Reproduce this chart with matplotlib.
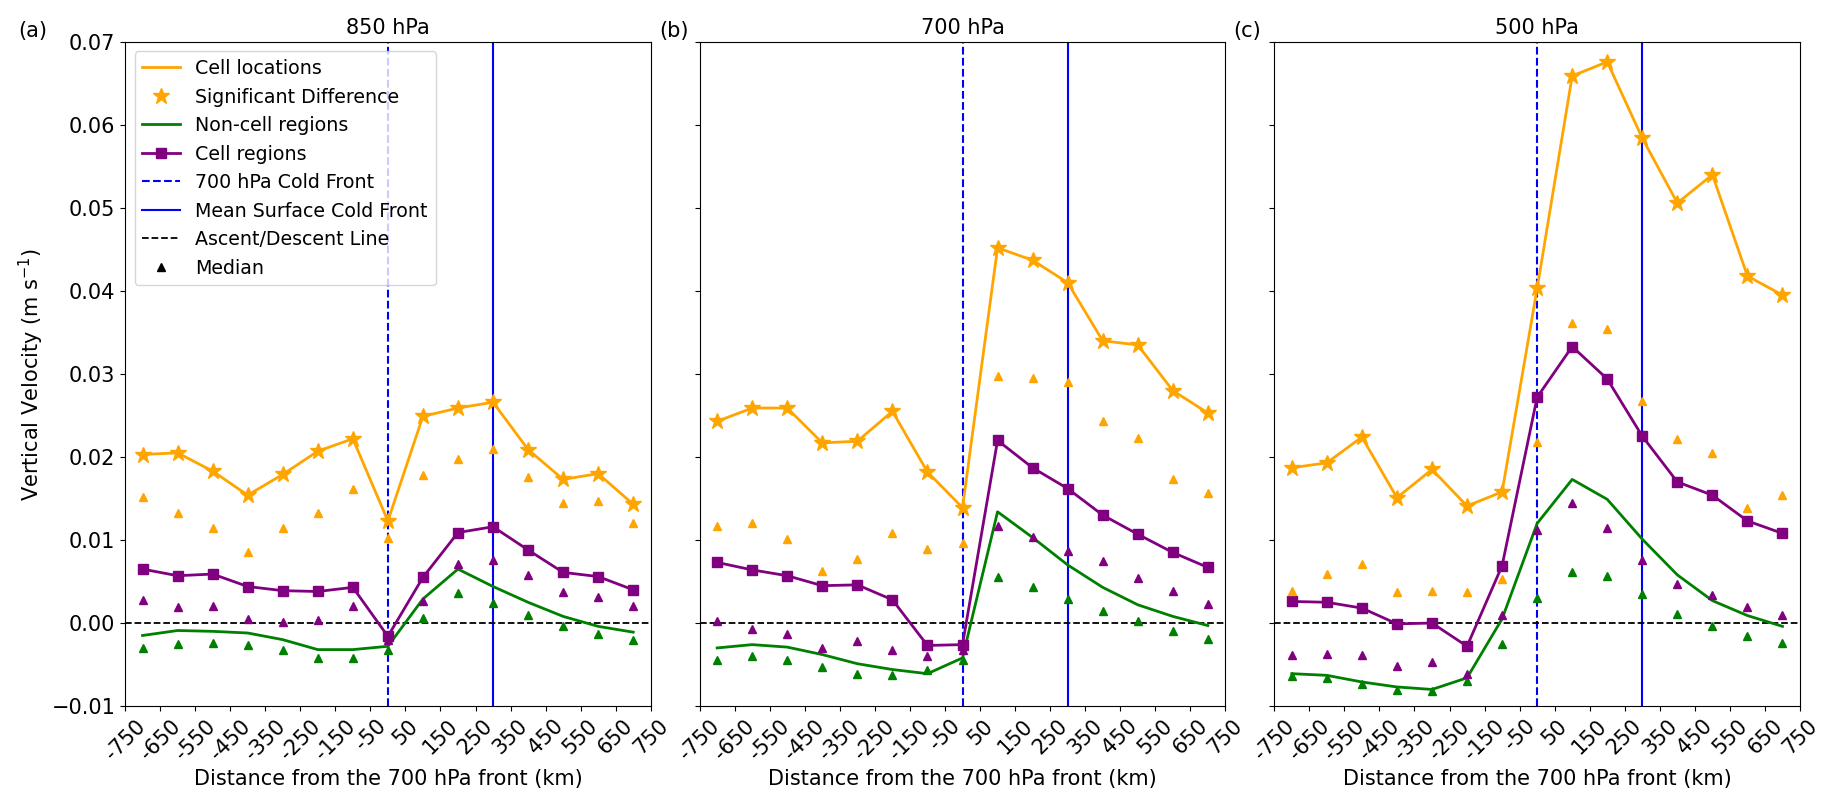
import matplotlib
matplotlib.use("Agg")
import matplotlib.pyplot as plt
from matplotlib.lines import Line2D

distance = [-700, -600, -500, -400, -300, -200, -100, 0, 100, 200, 300, 400, 500, 600, 700]
levels = ["850 hPa", "700 hPa", "500 hPa"]
panel_labels = ["(a)", "(b)", "(c)"]
xticks = list(range(-750, 751, 100))
xtick_labels = [str(v) for v in xticks]

# 850 hPa
cell_loc_850 = [0.0203, 0.0205, 0.0183, 0.0154, 0.0179, 0.0207, 0.0222, 0.0123, 0.0249, 0.0259, 0.0266, 0.0209, 0.0173, 0.0180, 0.0143]
cell_loc_med_850 = [0.0152, 0.0133, 0.0115, 0.0085, 0.0114, 0.0132, 0.0161, 0.0103, 0.0178, 0.0197, 0.0210, 0.0176, 0.0145, 0.0147, 0.0121]
cell_reg_850 = [0.0065, 0.0057, 0.0059, 0.0044, 0.0039, 0.0038, 0.0043, -0.0016, 0.0055, 0.0109, 0.0116, 0.0088, 0.0061, 0.0056, 0.0040]
cell_reg_med_850 = [0.0028, 0.0019, 0.0021, 0.0005, 0.0001, 0.0004, 0.0021, -0.0020, 0.0027, 0.0071, 0.0076, 0.0058, 0.0037, 0.0031, 0.0020]
noncell_850 = [-0.0015, -0.0009, -0.0010, -0.0012, -0.0020, -0.0032, -0.0032, -0.0028, 0.0029, 0.0065, 0.0044, 0.0025, 0.0008, -0.0004, -0.0011]
noncell_med_850 = [-0.0030, -0.0025, -0.0024, -0.0026, -0.0033, -0.0042, -0.0042, -0.0033, 0.0006, 0.0036, 0.0024, 0.0010, -0.0004, -0.0013, -0.0021]

# 700 hPa
cell_loc_700 = [0.0243, 0.0259, 0.0259, 0.0217, 0.0219, 0.0255, 0.0182, 0.0139, 0.0452, 0.0437, 0.0410, 0.0340, 0.0335, 0.0280, 0.0253]
cell_loc_med_700 = [0.0117, 0.0121, 0.0101, 0.0063, 0.0077, 0.0108, 0.0089, 0.0097, 0.0297, 0.0295, 0.0290, 0.0243, 0.0223, 0.0174, 0.0157]
cell_reg_700 = [0.0073, 0.0064, 0.0057, 0.0045, 0.0046, 0.0028, -0.0027, -0.0026, 0.0220, 0.0187, 0.0162, 0.0130, 0.0107, 0.0085, 0.0067]
cell_reg_med_700 = [0.0003, -0.0007, -0.0013, -0.0030, -0.0022, -0.0032, -0.0040, -0.0032, 0.0117, 0.0104, 0.0087, 0.0075, 0.0054, 0.0038, 0.0023]
noncell_700 = [-0.0030, -0.0026, -0.0029, -0.0038, -0.0049, -0.0056, -0.0061, -0.0042, 0.0134, 0.0103, 0.0070, 0.0043, 0.0022, 0.0008, -0.0003]
noncell_med_700 = [-0.0044, -0.0040, -0.0044, -0.0053, -0.0061, -0.0062, -0.0057, -0.0044, 0.0056, 0.0044, 0.0029, 0.0014, 0.0003, -0.0009, -0.0019]

# 500 hPa
cell_loc_500 = [0.0187, 0.0193, 0.0224, 0.0151, 0.0185, 0.0141, 0.0158, 0.0403, 0.0659, 0.0676, 0.0584, 0.0506, 0.0540, 0.0418, 0.0395]
cell_loc_med_500 = [0.0039, 0.0059, 0.0071, 0.0037, 0.0038, 0.0037, 0.0053, 0.0218, 0.0362, 0.0354, 0.0268, 0.0222, 0.0205, 0.0139, 0.0154]
cell_reg_500 = [0.0026, 0.0025, 0.0018, -0.0001, 0.0000, -0.0028, 0.0069, 0.0272, 0.0333, 0.0294, 0.0225, 0.0170, 0.0154, 0.0123, 0.0108]
cell_reg_med_500 = [-0.0039, -0.0037, -0.0038, -0.0052, -0.0047, -0.0061, 0.0010, 0.0112, 0.0145, 0.0114, 0.0076, 0.0047, 0.0034, 0.0019, 0.0010]
noncell_500 = [-0.0061, -0.0063, -0.0071, -0.0077, -0.0080, -0.0066, 0.0005, 0.0120, 0.0173, 0.0149, 0.0101, 0.0058, 0.0027, 0.0009, -0.0004]
noncell_med_500 = [-0.0064, -0.0066, -0.0073, -0.0081, -0.0082, -0.0070, -0.0025, 0.0030, 0.0062, 0.0057, 0.0035, 0.0011, -0.0004, -0.0016, -0.0024]

front_700 = 0
surface_front = 300

data = [
    (cell_loc_850, cell_loc_med_850, cell_reg_850, cell_reg_med_850, noncell_850, noncell_med_850),
    (cell_loc_700, cell_loc_med_700, cell_reg_700, cell_reg_med_700, noncell_700, noncell_med_700),
    (cell_loc_500, cell_loc_med_500, cell_reg_500, cell_reg_med_500, noncell_500, noncell_med_500),
]

FS = 15
LFS = 13.7
label_x = [-0.203, -0.076, -0.078]
plt.rcParams['font.family'] = ['DejaVu Sans']
fig, axes = plt.subplots(1, 3, figsize=(18.33, 8.06), dpi=100, sharey=True)
fig.subplots_adjust(left=0.0682, right=0.982, top=0.948, bottom=0.124, wspace=0.093)

for i, ax in enumerate(axes):
    cl, clm, cr, crm, nc, ncm = data[i]
    ax.axvline(front_700, color='blue', ls='--', lw=1.5)
    ax.axvline(surface_front, color='blue', ls='-', lw=1.5)
    ax.axhline(0, color='black', ls='--', lw=1.3)
    ax.plot(distance, nc, color='green', lw=2)
    ax.plot(distance, ncm, ls='none', marker='^', color='green', ms=6)
    ax.plot(distance, cr, color='purple', lw=2, marker='s', ms=7)
    ax.plot(distance, crm, ls='none', marker='^', color='purple', ms=6)
    ax.plot(distance, cl, color='orange', lw=2)
    ax.plot(distance, cl, ls='none', marker='*', color='orange', ms=12)
    ax.plot(distance, clm, ls='none', marker='^', color='orange', ms=6)
    ax.set_xlim(-750, 750)
    ax.set_ylim(-0.01, 0.07)
    ax.set_xticks(xticks)
    ax.set_xticklabels(xtick_labels, rotation=45, fontsize=FS)
    ax.tick_params(axis='y', labelsize=FS)
    ax.set_xlabel("Distance from the 700 hPa front (km)", fontsize=FS)
    ax.set_title(levels[i], fontsize=FS)
    ax.text(label_x[i], 1.017, panel_labels[i], transform=ax.transAxes, fontsize=FS,
            ha='left', va='center')

axes[0].set_ylabel("Vertical Velocity (m s$^{-1}$)", fontsize=FS)

handles = [
    Line2D([], [], color='orange', lw=2),
    Line2D([], [], color='orange', ls='none', marker='*', ms=12),
    Line2D([], [], color='green', lw=2),
    Line2D([], [], color='purple', lw=2, marker='s', ms=7),
    Line2D([], [], color='blue', ls='--', lw=1.5),
    Line2D([], [], color='blue', ls='-', lw=1.5),
    Line2D([], [], color='black', ls='--', lw=1.3),
    Line2D([], [], color='black', ls='none', marker='^', ms=6),
]
labels = ["Cell locations", "Significant Difference", "Non-cell regions", "Cell regions",
          "700 hPa Cold Front", "Mean Surface Cold Front", "Ascent/Descent Line", "Median"]
axes[0].legend(handles, labels, loc='upper left', fontsize=LFS)

fig.savefig("out.png", dpi=100)
